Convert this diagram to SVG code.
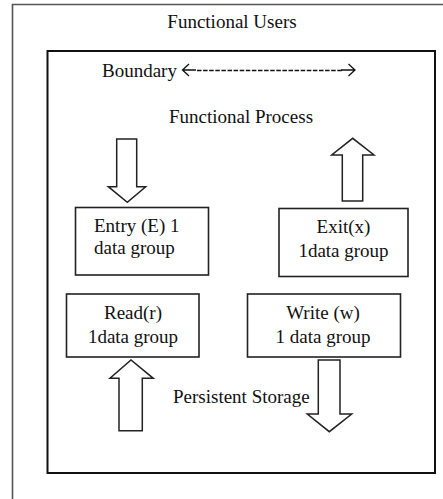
<svg xmlns="http://www.w3.org/2000/svg" width="443" height="499" viewBox="0 0 443 499">
<style>
text{font-family:"Liberation Serif","Times New Roman",serif;font-size:19px;fill:#111}
.box{fill:#fff;stroke:#222;stroke-width:1.6}
.arr{fill:#fff;stroke:#222;stroke-width:1.5;stroke-linejoin:miter}
.bnd{fill:none;stroke:#111;stroke-width:1.3}
</style>
<rect x="0" y="0" width="443" height="499" fill="#fff"/>
<g id="functional-users">
<path d="M12.5,499 V4.5 H443" fill="none" stroke="#555" stroke-width="1.6"/>
<text x="232" y="28" text-anchor="middle">Functional Users</text>
</g>
<g id="functional-process">
<rect x="47.5" y="51" width="387.5" height="422" fill="none" stroke="#111" stroke-width="2"/>
<text x="241" y="123" text-anchor="middle">Functional Process</text>
</g>
<g id="boundary">
<text x="102" y="77">Boundary</text>
<path class="bnd" d="M189,64 L182.5,70 L189,76 M182.5,70 H196"/>
<path class="bnd" d="M197,70.5 H342" stroke-dasharray="4.5,1.6"/>
<path class="bnd" d="M348.5,64 L355,70 L348.5,76 M341,70 H355"/>
</g>
<g id="entry">
<rect class="box" x="75.5" y="207.5" width="133" height="67.5"/>
<text x="94" y="232">Entry (E) 1</text>
<text x="94" y="254">data group</text>
</g>
<g id="exit">
<rect class="box" x="279" y="208.5" width="129" height="68"/>
<text x="343.5" y="233" text-anchor="middle">Exit(x)</text>
<text x="343.5" y="257" text-anchor="middle">1data group</text>
</g>
<g id="read">
<rect class="box" x="66.5" y="294" width="132.5" height="63"/>
<text x="133" y="319" text-anchor="middle">Read(r)</text>
<text x="133" y="343" text-anchor="middle">1data group</text>
</g>
<g id="write">
<rect class="box" x="247.5" y="294" width="153" height="63"/>
<text x="323" y="319" text-anchor="middle">Write (w)</text>
<text x="323" y="343" text-anchor="middle">1 data group</text>
</g>
<g id="persistent-storage">
<text x="173" y="403">Persistent Storage</text>
</g>
<g id="connectors">
<polygon class="arr" points="116.7,139 136.7,139 136.7,186.7 145.7,186.7 127.3,202.3 108.3,186.7 116.7,186.7"/>
<polygon class="arr" points="342.3,201 362.7,201 362.7,155 374,155 352.7,138.3 331.7,155 342.3,155"/>
<polygon class="arr" points="119,430.7 142.3,430.7 142.3,378.3 153.3,378.3 131,360 110,378.3 119,378.3"/>
<polygon class="arr" points="318.3,360 340,360 340,414 351.7,414 329.3,431.7 307.3,414 318.3,414"/>
</g>
</svg>
